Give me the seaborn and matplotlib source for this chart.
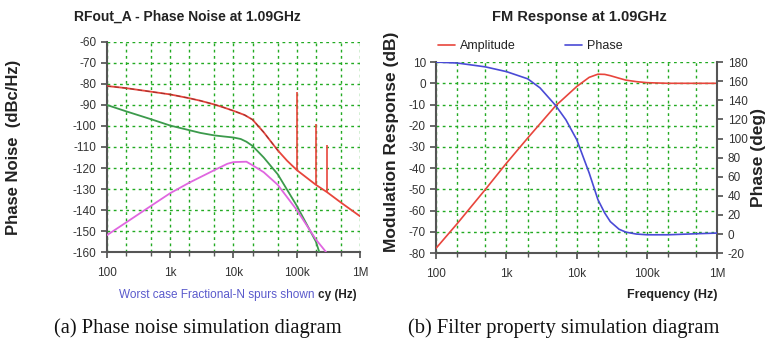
import numpy as np
import matplotlib
matplotlib.use("Agg")
import matplotlib.pyplot as plt
import matplotlib.ticker as mticker
import seaborn as sns

# Phase noise (left panel)
pn_freq = [100, 200, 500, 1e3, 2e3, 3e3, 5e3, 7e3, 1e4, 1.5e4, 2e4, 3e4, 5e4, 7e4,
           1e5, 2e5, 3e5, 5e5, 1e6]
pn_total = [-81, -82, -83.7, -85, -86.8, -88, -89.8, -91.2, -92.8, -94.8, -97, -103,
            -111.6, -116.5, -121, -128, -131.5, -136.5, -143]
green_freq = [100, 200, 500, 1e3, 2e3, 3e3, 5e3, 7e3, 1e4, 1.3e4, 1.6e4, 2e4, 3e4,
              5e4, 1e5, 2e5, 2.26e5]
green_vals = [-90, -93, -96.8, -99.8, -102, -103.3, -104.5, -105, -105.5, -106.2,
              -107.5, -109.5, -115, -123, -138, -155, -160]
mag_freq = [100, 200, 500, 1e3, 2e3, 5e3, 8e3, 1e4, 1.6e4, 2e4, 3e4, 5e4, 1e5, 2e5, 2.9e5]
mag_vals = [-152, -146, -138, -132, -127, -121, -118, -117.2, -117, -118.7, -122, -128,
            -140, -154, -160]
spur_freq = [1e5, 2e5, 3e5]
spur_top = [-84, -99, -109]
spur_base = [-121, -128, -131.5]

# FM response (right panel)
fm_freq = [100, 200, 500, 1e3, 2e3, 5e3, 1e4, 1.5e4, 2e4, 2.5e4, 3e4, 4e4, 5e4, 7e4,
           1e5, 2e5, 5e5, 1e6]
amp_db = [-77.6, -66, -50, -37.6, -25.8, -10.6, -1.5, 2.8, 4.3, 4.2, 3.6, 2.4, 1.5, 0.8,
          0.3, 0, 0, 0]
ph_freq = [100, 200, 500, 1e3, 2e3, 3e3, 5e3, 7e3, 1e4, 1.5e4, 2e4, 2.5e4, 3e4, 4e4,
           5e4, 7e4, 1e5, 2e5, 5e5, 1e6]
phase_deg = [180, 179, 175, 170, 162.5, 153, 134.6, 119.6, 98.7, 64, 36, 22, 13, 5, 2,
             0, -0.8, -0.8, 0.3, 1]

sns.set_theme(style="white")
plt.rcParams["font.family"] = ["Liberation Sans", "DejaVu Sans"]
plt.rcParams["axes.unicode_minus"] = False

RED = "#e8453c"
GREEN = "#3c9a4c"
MAG = "#e066e0"
BLUE = "#4a4ad6"
GRID = "#22aa22"
DARK = "#333333"


def fmt_freq(v, pos=None):
    names = {100: "100", 1e3: "1k", 1e4: "10k", 1e5: "100k", 1e6: "1M"}
    for k, s in names.items():
        if abs(v - k) < 1e-6 * k:
            return s
    return ""


def style_axes(ax):
    ax.set_xscale("log")
    ax.set_xlim(100, 1e6)
    ax.xaxis.set_major_locator(mticker.LogLocator(base=10, subs=(1.0,)))
    ax.xaxis.set_major_formatter(mticker.FuncFormatter(fmt_freq))
    ax.xaxis.set_minor_locator(mticker.LogLocator(base=10, subs=(2.0, 5.0)))
    ax.xaxis.set_minor_formatter(mticker.NullFormatter())
    ax.grid(True, which="both", color=GRID, linestyle=(0, (2, 2.5)), linewidth=1)
    for s in ["top", "right"]:
        ax.spines[s].set_visible(False)
    for s in ["left", "bottom"]:
        ax.spines[s].set_color("#555555")
        ax.spines[s].set_linewidth(1.5)
    ax.tick_params(which="both", direction="out", length=4, color="#555555",
                   labelsize=8.5, labelcolor=DARK, bottom=True, left=True)
    ax.tick_params(axis="x", which="major", pad=7)
    ax.tick_params(which="minor", length=3)
    ax.set_xlabel("")
    ax.set_ylabel("")


fig = plt.figure(figsize=(7.68, 3.43), dpi=100)

# ---- left panel ----
ax1 = fig.add_axes([0.139, 0.265, 0.330, 0.613])
sns.lineplot(x=pn_freq, y=pn_total, ax=ax1, color=RED, linewidth=1.3, zorder=4)
sns.lineplot(x=pn_freq[:13], y=pn_total[:13], ax=ax1, color="#702020", linewidth=0.8,
             linestyle=(0, (4, 3)), zorder=5, alpha=0.6)
sns.lineplot(x=green_freq, y=green_vals, ax=ax1, color=GREEN, linewidth=1.3, zorder=3)
sns.lineplot(x=mag_freq, y=mag_vals, ax=ax1, color=MAG, linewidth=1.3, zorder=3)
ax1.vlines(spur_freq, spur_base, spur_top, color=RED, linewidth=1.2, zorder=4)
style_axes(ax1)
ax1.set_ylim(-160, -60)
ax1.set_yticks(np.arange(-160, -59, 10))
fig.text(0.244, 0.950, "RFout_A - Phase Noise at 1.09GHz", ha="center", va="center",
         fontsize=10, fontweight="bold", color="#222222")
fig.text(0.018, 0.57, "Phase Noise  (dBc/Hz)", rotation=90, ha="center", va="center",
         fontsize=12, fontweight="bold", color="#222222")
fig.text(0.414, 0.14, "Worst case Fractional-N spurs shown ", ha="right", va="center",
         fontsize=8.5, color="#5a5acc")
fig.text(0.414, 0.14, "cy (Hz)", ha="left", va="center", fontsize=8.5,
         fontweight="bold", color="#222222")

# ---- right panel ----
ax2 = fig.add_axes([0.568, 0.262, 0.366, 0.557])
sns.lineplot(x=fm_freq, y=amp_db, ax=ax2, color=RED, linewidth=1.2, zorder=4)
ax3 = ax2.twinx()
sns.lineplot(x=ph_freq, y=phase_deg, ax=ax3, color=BLUE, linewidth=1.2, zorder=4)
ax3.set_ylim(-20, 180)
ax3.set_yticks(np.arange(-20, 181, 20))
ax3.set_ylabel("")
for s in ["top", "left", "bottom"]:
    ax3.spines[s].set_visible(False)
ax3.spines["right"].set_color("#555555")
ax3.spines["right"].set_linewidth(1.5)
ax3.tick_params(axis="y", direction="out", length=4, color="#555555", labelsize=8.5,
                labelcolor=DARK, right=True)
ax3.grid(False)
style_axes(ax2)
ax2.set_ylim(-80, 10)
ax2.set_yticks(np.arange(-80, 11, 10))

fig.text(0.754, 0.950, "FM Response at 1.09GHz", ha="center", va="center",
         fontsize=10.5, fontweight="bold", color="#222222")
fig.text(0.510, 0.586, "Modulation Response (dB)", rotation=90, ha="center", va="center",
         fontsize=12.5, fontweight="bold", color="#222222")
fig.text(0.988, 0.542, "Phase (deg)", rotation=90, ha="center", va="center",
         fontsize=12.5, fontweight="bold", color="#222222")
fig.text(0.934, 0.14, "Frequency (Hz)", ha="right", va="center", fontsize=9,
         fontweight="bold", color="#222222")

# legend
ax2.plot([], [], color=RED, linewidth=1.2, label="Amplitude")
ax2.plot([], [], color=BLUE, linewidth=1.2, label="Phase")
ax2.legend(loc="lower left", bbox_to_anchor=(-0.01, 1.025), ncol=2, frameon=False,
           fontsize=9, handlelength=1.3, handletextpad=0.4, columnspacing=4.0,
           borderaxespad=0.0, labelcolor="#222222")

# captions
fig.text(0.258, 0.044, "(a) Phase noise simulation diagram", ha="center", va="center",
         fontsize=14.8, family=["Liberation Serif"], color="#111111")
fig.text(0.734, 0.044, "(b) Filter property simulation diagram", ha="center", va="center",
         fontsize=14.8, family=["Liberation Serif"], color="#111111")

fig.savefig("out.png", dpi=100)
